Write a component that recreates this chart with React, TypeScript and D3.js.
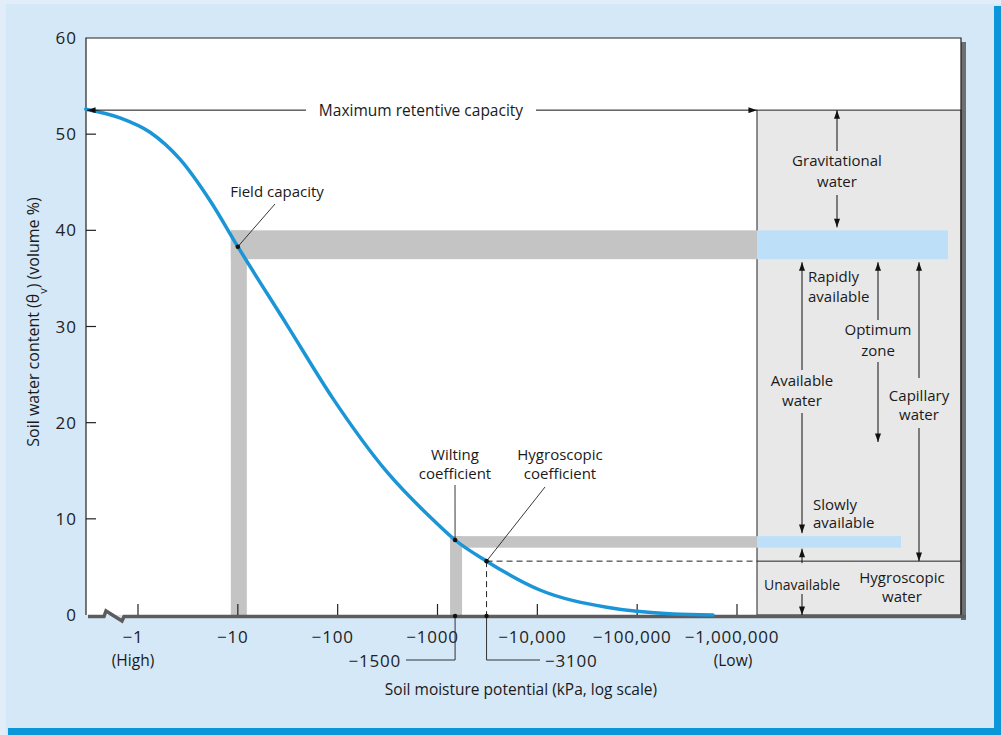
import React, { useRef, useEffect } from 'react';
import * as d3 from 'd3';

// soil moisture potential (kPa, shown as negative) vs water content (volume %)
const potentials = [0.3, 0.66, 1.32, 2.63, 5.26, 10, 30.9, 89.8, 310, 902, 1500, 3100, 10600, 49600, 229000, 575000];
const waterContent = [52.6, 51.7, 50.2, 47.4, 43.1, 38.3, 30.2, 22.5, 14.9, 9.9, 7.8, 5.6, 2.6, 0.8, 0.1, 0];

const xTicks = [1, 10, 100, 1000, 10000, 100000, 1000000];
const xTickLabels = ['\u22121', '\u221210', '\u2212100', '\u22121000', '\u221210,000', '\u2212100,000', '\u22121,000,000'];
const yTicks = [0, 10, 20, 30, 40, 50, 60];

const maxRetentive = 52.5;
const fieldCapacity = { potential: 10, water: 38.3 };
const wilting = { potential: 1500, water: 7.8 };
const hygroscopic = { potential: 3100, water: 5.6 };
const fieldBand = [37, 40];
const wiltingBand = [7, 8.2];

const W = 1001;
const H = 735;
const FONT = "'Open Sans', Lato, sans-serif";

const App: React.FC = () => {
    const svgRef = useRef<SVGSVGElement | null>(null);

    useEffect(() => {
        if (!svgRef.current) return;
        const svg = d3.select(svgRef.current);
        svg.selectAll('*').remove();

        const left = 86, right = 961, top = 38, bottom = 615;
        const panelX = 757;
        const x = d3.scaleLog().domain([1, 1e6]).range([138, 737]);
        const y = d3.scaleLinear().domain([0, 60]).range([bottom, top]);

        const defs = svg.append('defs');
        defs.append('marker')
            .attr('id', 'arr')
            .attr('viewBox', '0 0 10 7')
            .attr('refX', 10)
            .attr('refY', 3.5)
            .attr('markerWidth', 10)
            .attr('markerHeight', 6)
            .attr('markerUnits', 'userSpaceOnUse')
            .attr('orient', 'auto')
            .append('path')
            .attr('d', 'M0,0 L10,3.5 L0,7 Z')
            .attr('fill', '#111');

        // page background and frame
        svg.append('rect').attr('width', W).attr('height', H).attr('fill', '#e1eefa');
        svg.append('rect').attr('x', 6).attr('y', 4).attr('width', W - 6).attr('height', H - 4).attr('fill', '#d5e8f8');
        svg.append('rect').attr('x', 8).attr('y', 728).attr('width', W - 8).attr('height', 7).attr('fill', '#0b96da');
        svg.append('rect').attr('x', 994).attr('y', 6).attr('width', 7).attr('height', H - 6).attr('fill', '#0b96da');

        // plot box with shadow
        svg.append('rect').attr('x', right).attr('y', top + 4).attr('width', 5).attr('height', bottom - top + 1).attr('fill', '#6f6f6f');
        svg.append('rect').attr('x', left).attr('y', top).attr('width', right - left).attr('height', bottom - top).attr('fill', '#fff');

        // classification panel
        svg.append('rect')
            .attr('x', panelX).attr('y', y(maxRetentive))
            .attr('width', right - panelX).attr('height', bottom - y(maxRetentive))
            .attr('fill', '#e8e8e8').attr('stroke', '#222').attr('stroke-width', 1);

        // field capacity bars
        const gray = '#c4c4c4';
        const lightBlue = '#bde0f8';
        const fcX = x(fieldCapacity.potential);
        svg.append('rect').attr('x', fcX - 7).attr('y', y(fieldBand[1])).attr('width', 16).attr('height', bottom - y(fieldBand[1])).attr('fill', gray);
        svg.append('rect').attr('x', fcX - 7).attr('y', y(fieldBand[1])).attr('width', panelX - fcX + 7).attr('height', y(fieldBand[0]) - y(fieldBand[1])).attr('fill', gray);
        svg.append('rect').attr('x', panelX).attr('y', y(fieldBand[1])).attr('width', 191).attr('height', y(fieldBand[0]) - y(fieldBand[1])).attr('fill', lightBlue);

        // wilting bars
        const wX = x(wilting.potential);
        svg.append('rect').attr('x', wX - 5).attr('y', y(wiltingBand[1])).attr('width', 12).attr('height', bottom - y(wiltingBand[1])).attr('fill', gray);
        svg.append('rect').attr('x', wX - 5).attr('y', y(wiltingBand[1])).attr('width', panelX - wX + 5).attr('height', y(wiltingBand[0]) - y(wiltingBand[1])).attr('fill', gray);
        svg.append('rect').attr('x', panelX).attr('y', y(wiltingBand[1])).attr('width', 144).attr('height', y(wiltingBand[0]) - y(wiltingBand[1])).attr('fill', lightBlue);

        // frame lines
        svg.append('path')
            .attr('d', `M${left},${bottom} V${top} H${right} V${bottom}`)
            .attr('fill', 'none').attr('stroke', '#222').attr('stroke-width', 1.2);

        // bottom axis with break
        svg.append('path')
            .attr('d', `M${left + 2},${bottom + 1.5} H104 L106,611 L122,621 L124,${bottom + 1.5} H${right + 5}`)
            .attr('fill', 'none').attr('stroke', '#5c5c5c').attr('stroke-width', 3.5);

        // y ticks
        svg.selectAll('.ytick')
            .data(yTicks.filter((t) => t > 0 && t < 60))
            .enter()
            .append('line')
            .attr('x1', left).attr('x2', left + 10)
            .attr('y1', (d) => y(d)).attr('y2', (d) => y(d))
            .attr('stroke', '#222').attr('stroke-width', 1.2);
        svg.selectAll('.ylab')
            .data(yTicks)
            .enter()
            .append('text')
            .attr('x', 77)
            .attr('y', (d) => y(d))
            .attr('dy', '0.36em')
            .attr('text-anchor', 'end')
            .attr('font-family', FONT).attr('font-size', 17).attr('letter-spacing', 1).attr('fill', '#222')
            .text((d) => String(d));

        // x ticks
        svg.selectAll('.xtick')
            .data(xTicks)
            .enter()
            .append('line')
            .attr('x1', (d) => x(d)).attr('x2', (d) => x(d))
            .attr('y1', bottom - 11).attr('y2', bottom)
            .attr('stroke', '#222').attr('stroke-width', 1.2);
        svg.selectAll('.xlab')
            .data(xTicks)
            .enter()
            .append('text')
            .attr('x', (d) => x(d) - 5)
            .attr('y', 637)
            .attr('dy', '0.36em')
            .attr('text-anchor', 'middle')
            .attr('font-family', FONT).attr('font-size', 17).attr('letter-spacing', 0.8).attr('fill', '#222')
            .text((d, i) => xTickLabels[i]);

        const txt = (tx: number, ty: number, s: string, anchor = 'middle', size = 15) =>
            svg.append('text')
                .attr('x', tx).attr('y', ty).attr('dy', '0.36em')
                .attr('text-anchor', anchor)
                .attr('font-family', FONT).attr('font-size', size).attr('fill', '#1a1a1a')
                .text(s);

        txt(x(1) - 5, 660, '(High)', 'middle', 15.5);
        txt(x(1e6) - 4, 660, '(Low)', 'middle', 15.5);
        txt(521, 689, 'Soil moisture potential (kPa, log scale)', 'middle', 15.5);

        const yl = svg.append('text')
            .attr('transform', 'translate(33,322) rotate(-90)')
            .attr('text-anchor', 'middle')
            .attr('dy', '0.36em')
            .attr('font-family', FONT).attr('font-size', 16).attr('fill', '#1a1a1a');
        yl.append('tspan').text('Soil water content (\u03B8');
        yl.append('tspan').attr('baseline-shift', 'sub').attr('font-size', 11).text('v');
        yl.append('tspan').text(') (volume %)');

        // water retention curve
        const pts: [number, number][] = potentials.map((p, i) => [p, waterContent[i]]);
        const line = d3.line<[number, number]>()
            .x((d) => x(d[0]))
            .y((d) => y(d[1]))
            .curve(d3.curveMonotoneX);
        svg.append('path')
            .attr('d', line(pts))
            .attr('fill', 'none').attr('stroke', '#1a95d7').attr('stroke-width', 3.5)
            .attr('stroke-linecap', 'round');

        // hygroscopic dashed lines
        const hX = x(hygroscopic.potential);
        const hY = y(hygroscopic.water);
        svg.append('path')
            .attr('d', `M${hX},${hY} H${panelX} M${hX},${hY} V${bottom}`)
            .attr('fill', 'none').attr('stroke', '#222').attr('stroke-width', 1)
            .attr('stroke-dasharray', '6,4');
        svg.append('line')
            .attr('x1', panelX).attr('x2', right).attr('y1', hY).attr('y2', hY)
            .attr('stroke', '#222').attr('stroke-width', 1);

        // -1500 and -3100 callouts below the axis
        svg.append('path')
            .attr('d', `M${wX},${bottom} V660 H406 M${hX},${bottom} V660 H540`)
            .attr('fill', 'none').attr('stroke', '#333').attr('stroke-width', 1);
        [wX, hX].forEach((cx) =>
            svg.append('circle').attr('cx', cx).attr('cy', bottom + 1).attr('r', 2.2).attr('fill', '#111'),
        );
        const callout = (tx: number, s: string, anchor: string) =>
            svg.append('text')
                .attr('x', tx).attr('y', 661).attr('dy', '0.36em')
                .attr('text-anchor', anchor)
                .attr('font-family', FONT).attr('font-size', 17).attr('letter-spacing', 0.8).attr('fill', '#222')
                .text(s);
        callout(401, '\u22121500', 'end');
        callout(545, '\u22123100', 'start');

        // point markers and leaders
        const fcY = y(fieldCapacity.water);
        const wY = y(wilting.water);
        svg.append('path')
            .attr('d', `M275,204 L${fcX},${fcY} M455,485 L${wX},${wY} M545,487 L${hX},${hY}`)
            .attr('fill', 'none').attr('stroke', '#222').attr('stroke-width', 0.9);
        [[fcX, fcY], [wX, wY], [hX, hY]].forEach(([cx, cy]) =>
            svg.append('circle').attr('cx', cx).attr('cy', cy).attr('r', 2.3).attr('fill', '#111'),
        );
        txt(277, 192, 'Field capacity');
        txt(455, 455, 'Wilting');
        txt(455, 474, 'coefficient');
        txt(560, 455, 'Hygroscopic');
        txt(560, 474, 'coefficient');

        // maximum retentive capacity
        const mY = y(maxRetentive);
        const arrow = (x1: number, y1: number, x2: number, y2: number) =>
            svg.append('line')
                .attr('x1', x1).attr('y1', y1).attr('x2', x2).attr('y2', y2)
                .attr('stroke', '#111').attr('stroke-width', 1)
                .attr('marker-end', 'url(#arr)');
        arrow(306, mY, left + 1, mY);
        arrow(536, mY, panelX, mY);
        txt(421, mY, 'Maximum retentive capacity', 'middle', 15.5);

        // panel annotations
        const gX = 837, avX = 802, opX = 878, capX = 919;
        const fcTop = y(fieldBand[1]);
        const fcBot = y(fieldBand[0]);
        const wTop = y(wiltingBand[1]);
        const wBot = y(wiltingBand[0]);

        arrow(gX, 151, gX, mY);
        txt(gX, 161, 'Gravitational');
        txt(gX, 182, 'water');
        arrow(gX, 195, gX, fcTop - 3);

        arrow(avX, 370, avX, fcBot + 3);
        txt(avX, 381, 'Available');
        txt(avX, 401, 'water');
        arrow(avX, 413, avX, wTop - 3);
        txt(808, 277, 'Rapidly', 'start');
        txt(808, 297, 'available', 'start');
        txt(813, 505, 'Slowly', 'start');
        txt(813, 523, 'available', 'start');

        arrow(opX, 320, opX, fcBot + 3);
        txt(opX, 330, 'Optimum');
        txt(opX, 351, 'zone');
        arrow(opX, 362, opX, 442);

        arrow(capX, 378, capX, fcBot + 3);
        txt(capX, 396, 'Capillary');
        txt(capX, 415, 'water');
        arrow(capX, 428, capX, hY);

        arrow(avX, hY + 2, avX, wBot + 1);
        txt(avX, 585, 'Unavailable', 'middle', 14);
        arrow(avX, 594, avX, bottom);
        txt(902, 578, 'Hygroscopic');
        txt(902, 597, 'water');
    }, []);

    return (
        <svg
            ref={svgRef}
            width={W}
            height={H}
            viewBox={`0 0 ${W} ${H}`}
            style={{ position: 'absolute', left: 0, top: 0, display: 'block' }}
        ></svg>
    );
};

export default App;
